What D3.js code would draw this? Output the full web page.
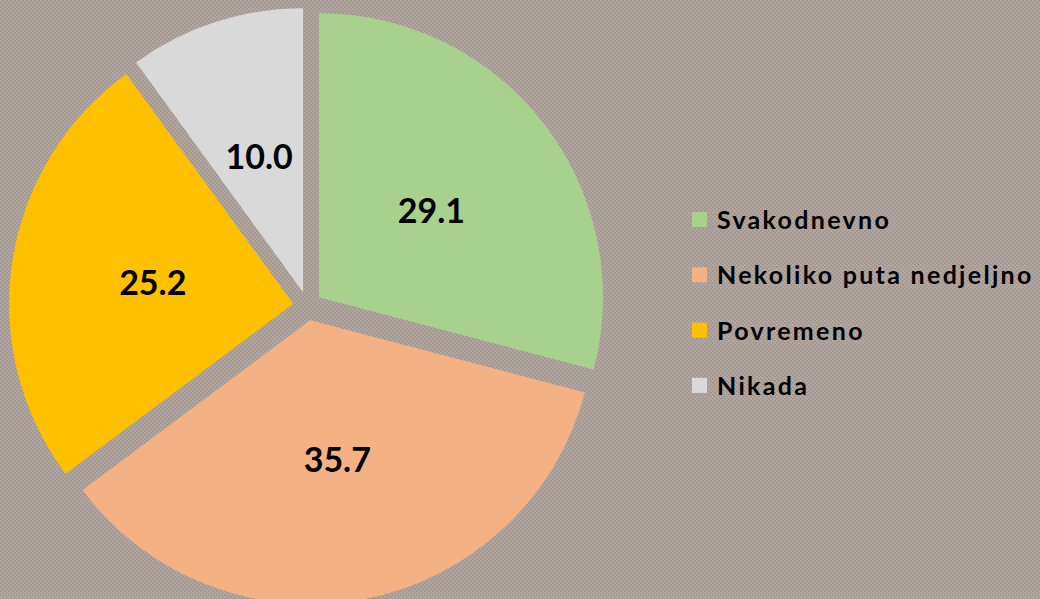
<!DOCTYPE html>
<html>
<head>
<meta charset="utf-8">
<script src="https://cdn.jsdelivr.net/npm/d3@7"></script>
<style>
  body { margin: 0; background: #a89e97; }
  svg { display: block; }
</style>
</head>
<body>
<div id="chart"></div>
<script>
var width = 1040,
    height = 599;

var categories = ['Svakodnevno', 'Nekoliko puta nedjeljno', 'Povremeno', 'Nikada'];
var values = [29.1, 35.7, 25.2, 10.0];
var colors = ['#a9d18e', '#f4b183', '#ffc000', '#d9d9d9'];

var svg = d3.select('#chart').append('svg')
    .attr('width', width)
    .attr('height', height);

// canvas-like texture
var defs = svg.append('defs');
var pat = defs.append('pattern')
    .attr('id', 'weave')
    .attr('width', 4)
    .attr('height', 4)
    .attr('patternUnits', 'userSpaceOnUse');
pat.append('rect').attr('width', 4).attr('height', 4).attr('fill', '#a89d96');
pat.append('rect').attr('x', 0).attr('y', 0).attr('width', 2).attr('height', 2).attr('fill', '#b3a9a2');
pat.append('rect').attr('x', 2).attr('y', 2).attr('width', 2).attr('height', 2).attr('fill', '#b0a69f');
pat.append('rect').attr('x', 2).attr('y', 0).attr('width', 1).attr('height', 1).attr('fill', '#998e88');
pat.append('rect').attr('x', 0).attr('y', 2).attr('width', 1).attr('height', 1).attr('fill', '#998e88');

svg.append('rect')
    .attr('width', width)
    .attr('height', height)
    .attr('fill', 'url(#weave)');

var cx = 307.5,
    cy = 306,
    radius = 284,
    explode = 14.5;

var pie = d3.pie().sort(null).value(function(d) { return d; });
var arc = d3.arc().innerRadius(0).outerRadius(radius);
var arcs = pie(values);

var g = svg.append('g')
    .attr('transform', 'translate(' + cx + ',' + cy + ')');

var slice = g.selectAll('.slice')
    .data(arcs)
    .enter().append('g')
    .attr('class', 'slice')
    .attr('transform', function(d) {
        var a = (d.startAngle + d.endAngle) / 2;
        return 'translate(' + (Math.sin(a) * explode) + ',' + (-Math.cos(a) * explode) + ')';
    });

slice.append('path')
    .attr('d', arc)
    .attr('fill', function(d, i) { return colors[i]; });

slice.append('text')
    .attr('transform', function(d) { return 'translate(' + arc.centroid(d) + ')'; })
    .attr('text-anchor', 'middle')
    .attr('dy', '0.36em')
    .attr('font-family', 'Lato, sans-serif')
    .attr('font-weight', 'bold')
    .attr('font-size', '34px')
    .attr('fill', '#000')
    .text(function(d) { return d.data.toFixed(1); });

// legend
var legend = svg.append('g')
    .attr('transform', 'translate(692,220)');

var item = legend.selectAll('.item')
    .data(categories)
    .enter().append('g')
    .attr('class', 'item')
    .attr('transform', function(d, i) { return 'translate(0,' + (i * 55.3) + ')'; });

item.append('rect')
    .attr('x', 0)
    .attr('y', -8)
    .attr('width', 15)
    .attr('height', 15)
    .attr('fill', function(d, i) { return colors[i]; });

item.append('text')
    .attr('x', 25)
    .attr('dy', '0.36em')
    .attr('font-family', 'Lato, sans-serif')
    .attr('font-weight', 'bold')
    .attr('font-size', '25px')
    .attr('letter-spacing', '2.3px')
    .attr('fill', '#000')
    .text(function(d) { return d; });
</script>
</body>
</html>
